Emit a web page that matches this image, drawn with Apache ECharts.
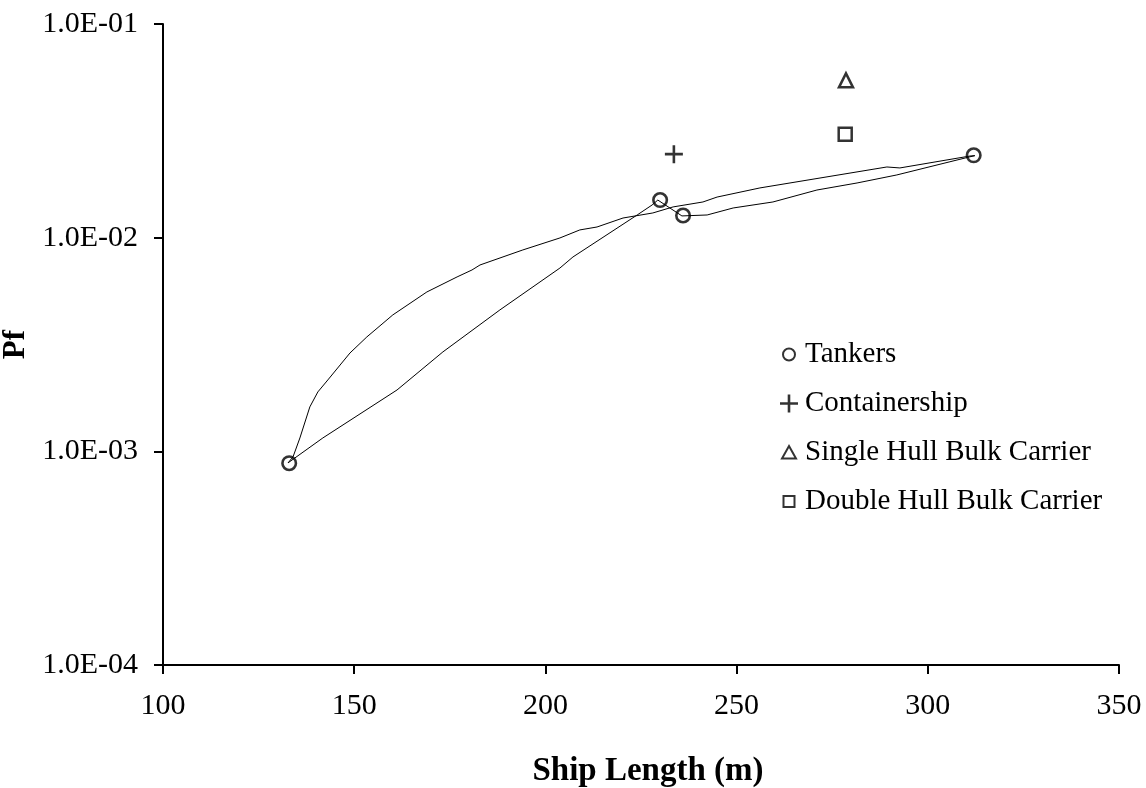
<!DOCTYPE html>
<html>
<head>
<meta charset="utf-8">
<script src="https://cdn.jsdelivr.net/npm/echarts@6/dist/echarts.min.js"></script>
<style>
  html, body { margin: 0; padding: 0; background: #fff; }
  #chart { width: 1146px; height: 788px; }
</style>
</head>
<body>
<div id="chart"></div>
<script>
// 读图得到的数据
const tankerX = [133, 230, 236, 312];
const tankerPf = [8.8e-4, 1.5e-2, 1.27e-2, 2.43e-2];

const containerX = [233.6];
const containerPf = [2.46e-2];

const singleHullX = [278.6];
const singleHullPf = [5.45e-2];

const doubleHullX = [278.4];
const doubleHullPf = [3.05e-2];

// 上方曲线（拟合线）
const upperX = [132.7, 134.0, 135.8, 138.4, 140.5, 143.1, 148.9, 153.3, 160.1, 169.0, 176.9, 180.8, 182.9, 194.1, 203.8, 209.0, 213.5, 220.3, 228.1, 233.4, 241.2, 244.9, 256.1, 289.3, 292.7, 311.0, 312.3];
const upperPf = [8.83e-4, 9.42e-4, 1.155e-3, 1.614e-3, 1.897e-3, 2.158e-3, 2.886e-3, 3.43e-3, 4.35e-3, 5.57e-3, 6.55e-3, 7.06e-3, 7.45e-3, 8.76e-3, 9.97e-3, 1.087e-2, 1.122e-2, 1.236e-2, 1.305e-2, 1.393e-2, 1.469e-2, 1.549e-2, 1.709e-2, 2.142e-2, 2.12e-2, 2.41e-2, 2.42e-2];

// 下方连线（经过各油轮点）
const lowerX = [132.7, 141.8, 161.2, 173.2, 188.1, 203.8, 207.2, 224.0, 227.9, 229.4, 235.7, 242.3, 249.1, 259.5, 271.0, 281.5, 291.9, 311.0, 312.3];
const lowerPf = [8.83e-4, 1.155e-3, 1.937e-3, 2.92e-3, 4.59e-3, 7.21e-3, 8.12e-3, 1.277e-2, 1.422e-2, 1.50e-2, 1.264e-2, 1.277e-2, 1.377e-2, 1.469e-2, 1.671e-2, 1.803e-2, 1.966e-2, 2.39e-2, 2.42e-2];

const xTicks = { min: 100, max: 350, interval: 50 };
const yRange = { min: 1e-4, max: 1e-1 };

function zip(xs, ys) {
  return xs.map((x, i) => [x, ys[i]]);
}

function expLabel(v) {
  const e = Math.round(Math.log10(v));
  const s = e < 0 ? '-' : '+';
  const a = Math.abs(e);
  return '1.0E' + s + (a < 10 ? '0' + a : a);
}

const FONT = '"Liberation Serif", "DejaVu Serif", serif';
const PLUS = 'path://M7.7,0H10.3V7.7H18V10.3H10.3V18H7.7V10.3H0V7.7H7.7Z';
// 图例图标：在 18x18 的框内留白，使圆/三角/方块比十字小
const ICON_CIRCLE = 'path://M0,0M18,18M3,9A6,6,0,1,1,15,9A6,6,0,1,1,3,9Z';
const ICON_TRI = 'path://M0,0M18,18M9,2.5L16,15H2Z';
const ICON_RECT = 'path://M0,0M18,18M3.5,3.5H14.5V14.5H3.5Z';

const markStyle = {
  color: '#fff',
  borderColor: '#000',
  borderWidth: 2.5
};

const chart = echarts.init(document.getElementById('chart'), null, { renderer: 'canvas' });

chart.setOption({
  backgroundColor: '#fff',
  animation: false,
  textStyle: { fontFamily: FONT, color: '#000' },
  grid: {
    left: 163,
    right: 27,
    top: 24,
    bottom: 123,
    containLabel: false,
    outerBoundsMode: 'none'
  },
  legend: {
    orient: 'vertical',
    left: 774,
    top: 335,
    itemGap: 20,
    itemWidth: 18,
    itemHeight: 18,
    textStyle: { fontFamily: FONT, fontSize: 29, color: '#000', padding: [0, 0, 0, 2] },
    data: [
      { name: 'Tankers', icon: ICON_CIRCLE, itemStyle: { color: '#fff', borderColor: '#000', borderWidth: 2 } },
      { name: 'Containership', icon: PLUS, itemStyle: { color: '#000', borderWidth: 0 } },
      { name: 'Single Hull Bulk Carrier', icon: ICON_TRI, itemStyle: { color: '#fff', borderColor: '#000', borderWidth: 2 } },
      { name: 'Double Hull Bulk Carrier', icon: ICON_RECT, itemStyle: { color: '#fff', borderColor: '#000', borderWidth: 2 } }
    ]
  },
  xAxis: {
    type: 'value',
    min: xTicks.min,
    max: xTicks.max,
    interval: xTicks.interval,
    name: 'Ship Length (m)',
    nameLocation: 'middle',
    nameGap: 90,
    nameTextStyle: { fontFamily: FONT, fontSize: 33, fontWeight: 'bold', color: '#000', padding: [0, 0, 0, 14] },
    axisLine: { lineStyle: { color: '#000', width: 2 } },
    axisTick: { length: 9, lineStyle: { color: '#000', width: 2 } },
    axisLabel: { fontFamily: FONT, fontSize: 30, color: '#000', margin: 26 },
    splitLine: { show: false }
  },
  yAxis: {
    type: 'log',
    logBase: 10,
    min: yRange.min,
    max: yRange.max,
    name: 'Pf',
    nameLocation: 'middle',
    nameGap: 118,
    nameTextStyle: { fontFamily: FONT, fontSize: 31, fontWeight: 'bold', color: '#000' },
    axisLine: { show: true, lineStyle: { color: '#000', width: 2 } },
    axisTick: { show: true, length: 9, lineStyle: { color: '#000', width: 2 } },
    axisLabel: { fontFamily: FONT, fontSize: 30, color: '#000', margin: 25, formatter: expLabel },
    minorTick: { show: false },
    splitLine: { show: false }
  },
  series: [
    {
      name: 'upper',
      type: 'line',
      data: zip(upperX, upperPf),
      showSymbol: false,
      symbol: 'none',
      lineStyle: { color: '#000', width: 1 },
      silent: true,
      z: 1
    },
    {
      name: 'lower',
      type: 'line',
      data: zip(lowerX, lowerPf),
      showSymbol: false,
      symbol: 'none',
      lineStyle: { color: '#000', width: 1 },
      silent: true,
      z: 1
    },
    {
      name: 'Tankers',
      type: 'scatter',
      data: zip(tankerX, tankerPf),
      symbol: 'circle',
      symbolSize: 13.5,
      itemStyle: { color: 'rgba(255,255,255,0)', borderColor: '#000', borderWidth: 2.6 },
      z: 3
    },
    {
      name: 'Containership',
      type: 'scatter',
      data: zip(containerX, containerPf),
      symbol: PLUS,
      symbolSize: 18,
      itemStyle: { color: '#000' },
      z: 3
    },
    {
      name: 'Single Hull Bulk Carrier',
      type: 'scatter',
      data: zip(singleHullX, singleHullPf),
      symbol: 'triangle',
      symbolSize: 14,
      itemStyle: markStyle,
      z: 3
    },
    {
      name: 'Double Hull Bulk Carrier',
      type: 'scatter',
      data: zip(doubleHullX, doubleHullPf),
      symbol: 'rect',
      symbolSize: 13,
      itemStyle: markStyle,
      z: 3
    }
  ]
});
</script>
</body>
</html>
